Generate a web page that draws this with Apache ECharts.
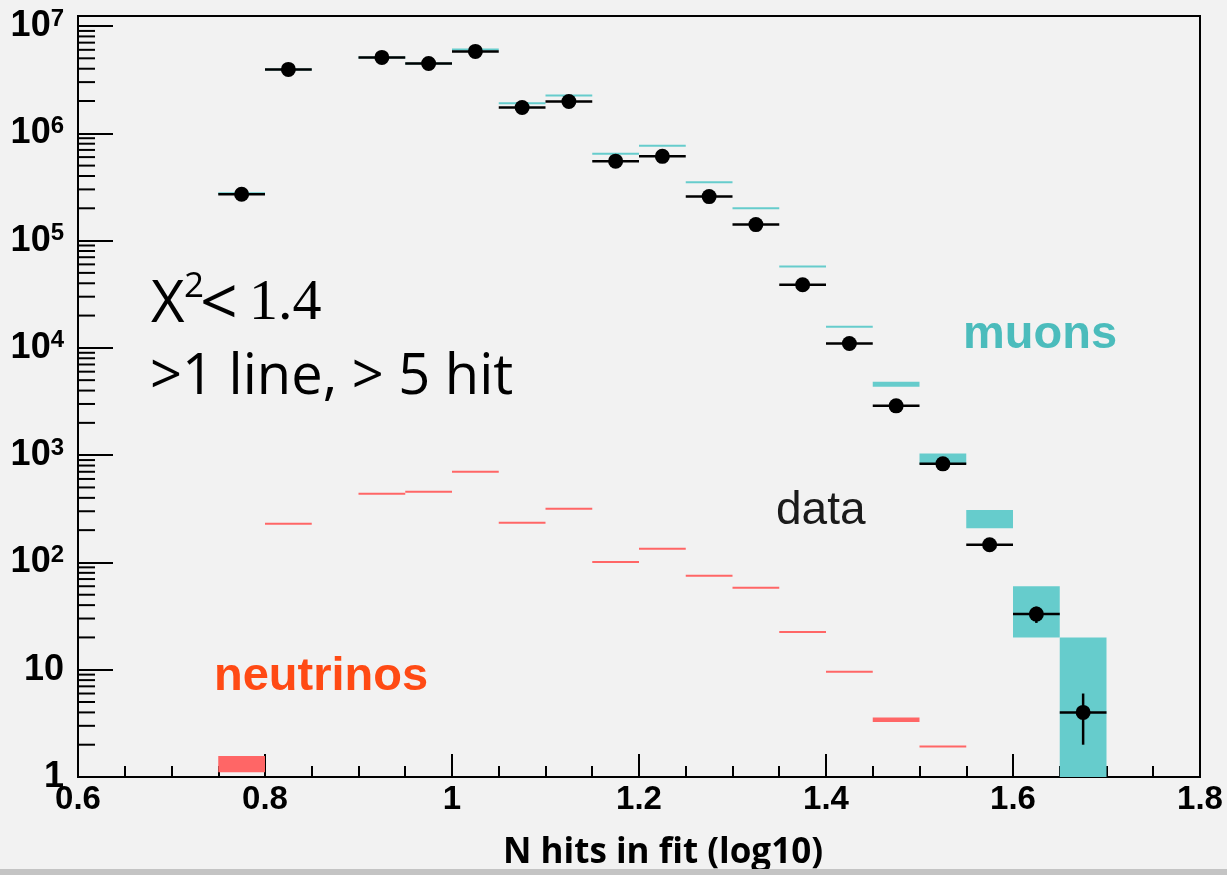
<!DOCTYPE html>
<html>
<head>
<meta charset="utf-8">
<script src="https://cdn.jsdelivr.net/npm/echarts@6/dist/echarts.min.js"></script>
<style>
html,body{margin:0;padding:0;background:#f2f2f2;}
#c{width:1227px;height:875px;}
</style>
</head>
<body>
<div id="c"></div>
<script>
// ---- data ----
const binWidth = 0.05;
const dataX = [0.775,0.825,0.925,0.975,1.025,1.075,1.125,1.175,1.225,1.275,1.325,1.375,1.425,1.475,1.525,1.575,1.625,1.675];
const dataVals = [2.7e5,3.94e6,5.1e6,4.48e6,5.8e6,1.74e6,1.98e6,5.5e5,6.1e5,2.57e5,1.41e5,3.88e4,1.1e4,2880,830,146,33,4];
const dataErr = [520,1985,2260,2117,2408,1319,1407,742,781,507,375,197,105,54,29,12,5.7,2];
const muonVals = [2.76e5,3.94e6,5.1e6,4.48e6,6.05e6,1.91e6,2.25e6,6.44e5,7.64e5,3.5e5,2.0e5,5.72e4,1.57e4,4580,930,258,40,10];
const muonErr = [3000,40000,50000,45000,60000,20000,23000,7000,8000,4000,2300,700,200,250,105,50,20,10];
const nuX = [0.775,0.825,0.925,0.975,1.025,1.075,1.125,1.175,1.225,1.275,1.325,1.375,1.425,1.475,1.525];
const nuVals = [1.34,229,436,456,700,234,316,101,134,75,58,22.5,9.55,3.42,1.92];
const nuErr = [0.23,2,4,4,6,2,3,1,1.2,0.6,0.5,0.2,0.1,0.17,0.02];
const xTicks = {min:0.6, max:1.8, interval:0.2};
const yRange = {min:1, max:1.24e7};
const yMinorMantissa = [2,3,4,5,6,7,8,9];
const yDecades = [1,10,100,1000,10000,100000,1000000];

const yMinorTicks = [];
yDecades.forEach(d => yMinorMantissa.forEach(m => yMinorTicks.push(m*d)));

const COL_MU = '#66cccc', COL_NU = '#ff6666';
const FONT = 'Liberation Sans';

function boxRender(color){
  return function(params, api){
    const x = api.value(0), v = api.value(1), e = api.value(2);
    const lo = Math.max(v - e, yRange.min), hi = v + e;
    const p1 = api.coord([x - binWidth/2, hi]);
    const p2 = api.coord([x + binWidth/2, lo]);
    let y1 = p1[1], y2 = p2[1];
    if (y2 - y1 < 2) { const m = (y1 + y2) / 2; y1 = m - 1; y2 = m + 1; }
    return {type:'rect', shape:{x:p1[0], y:y1, width:p2[0]-p1[0], height:y2-y1}, style:{fill:color}};
  };
}
function dataRender(params, api){
  const x = api.value(0), v = api.value(1), e = api.value(2);
  const c = api.coord([x, v]);
  const l = api.coord([x - binWidth/2, v]);
  const r = api.coord([x + binWidth/2, v]);
  const t = api.coord([x, v + e]);
  const b = api.coord([x, Math.max(v - e, yRange.min)]);
  return {type:'group', children:[
    {type:'line', shape:{x1:l[0], y1:c[1], x2:r[0], y2:c[1]}, style:{stroke:'#000', lineWidth:2.5}},
    {type:'line', shape:{x1:c[0], y1:t[1], x2:c[0], y2:b[1]}, style:{stroke:'#000', lineWidth:2.5}},
    {type:'circle', shape:{cx:c[0], cy:c[1], r:7.5}, style:{fill:'#000'}}
  ]};
}
function minorTickRender(params, api){
  const p = api.coord([xTicks.min, api.value(0)]);
  return {type:'line', shape:{x1:p[0], y1:p[1], x2:p[0]+17, y2:p[1]}, style:{stroke:'#000', lineWidth:2}};
}

const chart = echarts.init(document.getElementById('c'), null, {renderer:'canvas'});
chart.setOption({
  backgroundColor:'#f2f2f2',
  animation:false,
  grid:{left:78, right:27, top:16, bottom:98, show:true, borderColor:'#000', borderWidth:2, backgroundColor:'transparent', outerBoundsMode:'none'},
  xAxis:{
    type:'value', min:xTicks.min, max:xTicks.max, interval:xTicks.interval,
    axisLine:{show:true, onZero:false, lineStyle:{color:'#000', width:2}},
    axisTick:{show:true, inside:true, length:23, lineStyle:{color:'#000', width:2}},
    minorTick:{show:true, splitNumber:4, length:11, lineStyle:{color:'#000', width:2}},
    splitLine:{show:false}, minorSplitLine:{show:false},
    axisLabel:{color:'#000', fontFamily:FONT, fontWeight:'bold', fontSize:33, margin:6, hideOverlap:false,
      formatter: v => String(Math.round(v*10)/10)}
  },
  yAxis:{
    type:'log', logBase:10, min:yRange.min, max:yRange.max,
    axisLine:{show:true, onZero:false, lineStyle:{color:'#000', width:2}},
    axisTick:{show:true, inside:true, length:35, lineStyle:{color:'#000', width:2}},
    splitLine:{show:false},
    axisLabel:{color:'#000', margin:14, hideOverlap:false,
      formatter: v => {
        const e = Math.log10(v), r = Math.round(e);
        if (Math.abs(e - r) > 1e-6) return '';
        if (r === 0) return '{b|1}';
        if (r === 1) return '{b|10}';
        return '{b|10}{s|' + r + '}';
      },
      rich:{
        b:{fontFamily:FONT, fontWeight:'bold', fontSize:36, color:'#000', lineHeight:38},
        s:{fontFamily:FONT, fontWeight:'bold', fontSize:24, color:'#000', verticalAlign:'top', lineHeight:38, padding:[0,0,12,0]}
      }
    }
  },
  series:[
    {type:'custom', name:'muons', renderItem:boxRender(COL_MU), clip:true,
      data: dataX.map((x,i)=>[x, muonVals[i], muonErr[i]]), z:2},
    {type:'custom', name:'neutrinos', renderItem:boxRender(COL_NU), clip:true,
      data: nuX.map((x,i)=>[x, nuVals[i], nuErr[i]]), z:3},
    {type:'custom', name:'data', renderItem:dataRender, clip:true,
      data: dataX.map((x,i)=>[x, dataVals[i], dataErr[i]]), z:4},
    {type:'custom', name:'yminor', renderItem:minorTickRender, silent:true,
      data: yMinorTicks.map(v=>[v]), encode:{y:0}, z:5}
  ],
  graphic:[
    {type:'text', x:151, y:305, style:{text:'X', font:'58px "Open Sans"', fill:'#000', verticalAlign:'middle'}},
    {type:'text', x:184, y:287, style:{text:'2', font:'35px "Open Sans"', fill:'#000', verticalAlign:'middle'}},
    {type:'text', x:200, y:306, style:{text:'<', font:'66px "Open Sans"', fill:'#000', verticalAlign:'middle'}},
    {type:'text', x:249, y:304, style:{text:'1.4', font:'58px "Liberation Serif"', fill:'#000', verticalAlign:'middle'}},
    {type:'text', x:150, y:378, style:{text:'>1 line, > 5 hit', font:'56px "Open Sans"', fill:'#000', verticalAlign:'middle'}},
    {type:'text', x:963, y:335, style:{text:'muons', font:'bold 47px "Liberation Sans"', fill:'#4bbcbc', verticalAlign:'middle'}},
    {type:'text', x:776, y:511, style:{text:'data', font:'46px "Liberation Sans"', fill:'#1a1a1a', verticalAlign:'middle'}},
    {type:'text', x:214, y:677, style:{text:'neutrinos', font:'bold 47px "Liberation Sans"', fill:'#ff4a14', verticalAlign:'middle'}},
    {type:'text', x:663, y:853, style:{text:'N hits in fit (log10)', font:'bold 35px "Open Sans"', fill:'#000', align:'center', verticalAlign:'middle'}},
    {type:'rect', shape:{x:0, y:869, width:1227, height:6}, style:{fill:'#c4c4c4'}, z:100}
  ]
});
</script>
</body>
</html>
